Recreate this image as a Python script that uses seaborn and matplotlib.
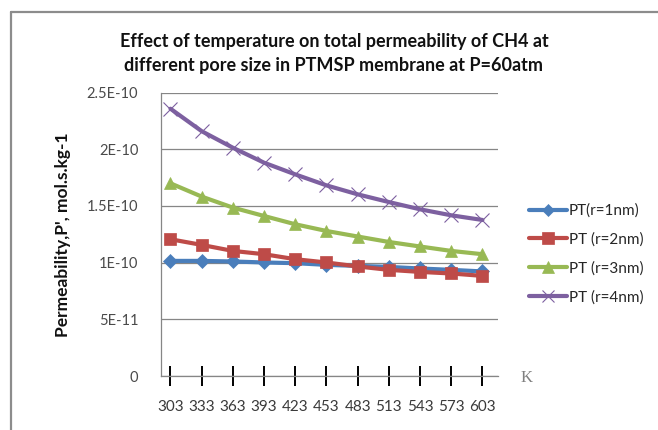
import pandas as pd
import matplotlib.pyplot as plt
import seaborn as sns
from matplotlib.lines import Line2D

# Data
temperatures = ["303", "333", "363", "393", "423", "453", "483", "513", "543", "573", "603"]
pt_r1 = [1.015, 1.015, 1.010, 1.001, 0.995, 0.980, 0.971, 0.962, 0.948, 0.936, 0.922]
pt_r2 = [1.206, 1.156, 1.103, 1.074, 1.030, 1.001, 0.966, 0.936, 0.918, 0.904, 0.883]
pt_r3 = [1.699, 1.582, 1.485, 1.411, 1.338, 1.279, 1.230, 1.182, 1.142, 1.103, 1.074]
pt_r4 = [2.357, 2.159, 2.013, 1.881, 1.778, 1.681, 1.602, 1.534, 1.470, 1.417, 1.376]
series_names = ["PT(r=1nm)", "PT (r=2nm)", "PT (r=3nm)", "PT (r=4nm)"]
y_ticks = [0, 0.5e-10, 1.0e-10, 1.5e-10, 2.0e-10, 2.5e-10]
y_tick_labels = ["0", "5E-11", "1E-10", "1.5E-10", "2E-10", "2.5E-10"]

sns.set_style("white")
plt.rcParams["font.family"] = ["Lato", "DejaVu Sans"]

rows = []
for name, vals in zip(series_names, [pt_r1, pt_r2, pt_r3, pt_r4]):
    for i, v in enumerate(vals):
        rows.append({"pos": i, "value": v * 1e-10, "series": name})
df = pd.DataFrame(rows)

colors = ["#4A7EBB", "#BE4B48", "#98B954", "#7D60A0"]
markers = ["D", "s", "^", "x"]
msizes = [7, 9, 9, 10]

fig = plt.figure(figsize=(6.58, 4.30), dpi=100)
ax = fig.add_axes([160.5 / 658, 1 - 376 / 430, (498 - 160.5) / 658, (376 - 92.5) / 430])

for name, c, m, ms in zip(series_names, colors, markers, msizes):
    sub = df[df["series"] == name]
    sns.lineplot(
        data=sub, x="pos", y="value", ax=ax, color=c, linewidth=3,
        marker=m, markersize=ms, markeredgecolor=c, markeredgewidth=0.8 if m == "x" else 0.5,
        label=name, legend=False,
    )

ax.set_xlim(-0.32, 10.5)
ax.set_ylim(0, 2.5e-10)
ax.set_yticks(y_ticks)
ax.set_yticklabels(y_tick_labels)
ax.set_xticks(range(len(temperatures)))
ax.set_xticklabels(temperatures)
ax.set_xlabel("")
ax.set_ylabel("")
ax.grid(axis="y", color="#868686", linewidth=0.9)
for s in ["top", "right"]:
    ax.spines[s].set_visible(False)
for s in ["left", "bottom"]:
    ax.spines[s].set_color("#868686")
    ax.spines[s].set_linewidth(0.9)
ax.tick_params(axis="x", bottom=True, direction="inout", length=15, width=1.4, color="black",
               labelsize=11, labelcolor="#3a3a3a", pad=10)
ax.tick_params(axis="y", length=0, labelsize=10.5, labelcolor="#4a4a4a", pad=16)

# Titles and labels
title_kw = dict(ha="center", va="center", fontsize=13, fontweight="bold", color="#111111")
fig.text(334 / 658, 1 - 42 / 430, "Effect of temperature on total permeability of CH4 at", **title_kw)
fig.text(334 / 658, 1 - 66 / 430, "different pore size in PTMSP membrane at P=60atm", **title_kw)
fig.text(63 / 658, 1 - 235 / 430, "Permeability,P', mol.s.kg-1", rotation=90,
         ha="center", va="center", fontsize=12.5, fontweight="bold", color="#111111")
fig.text(527 / 658, 1 - 378 / 430, "K", ha="center", va="center", fontsize=12,
         family="Liberation Serif", color="#808080")

# Legend
handles = [
    Line2D([], [], color=c, linewidth=3, marker=m, markersize=ms * 0.9,
           markeredgecolor=c, markeredgewidth=0.8 if m == "x" else 0.5)
    for c, m, ms in zip(colors, markers, msizes)
]
fig.legend(handles, series_names, loc="upper left", bbox_to_anchor=(521 / 658, 1 - 196 / 430),
           frameon=False, fontsize=11, handlelength=2.5, handletextpad=0.15,
           labelspacing=0.95, borderpad=0)

# Outer chart frame
fig.add_artist(Line2D([10.5 / 658, 10.5 / 658], [0, 1 - 11.5 / 430], transform=fig.transFigure,
                      color="#8c8c8c", linewidth=1.6))
fig.add_artist(Line2D([10.5 / 658, 1], [1 - 11.5 / 430, 1 - 11.5 / 430], transform=fig.transFigure,
                      color="#8c8c8c", linewidth=1.6))

fig.savefig("out.png", dpi=100)
